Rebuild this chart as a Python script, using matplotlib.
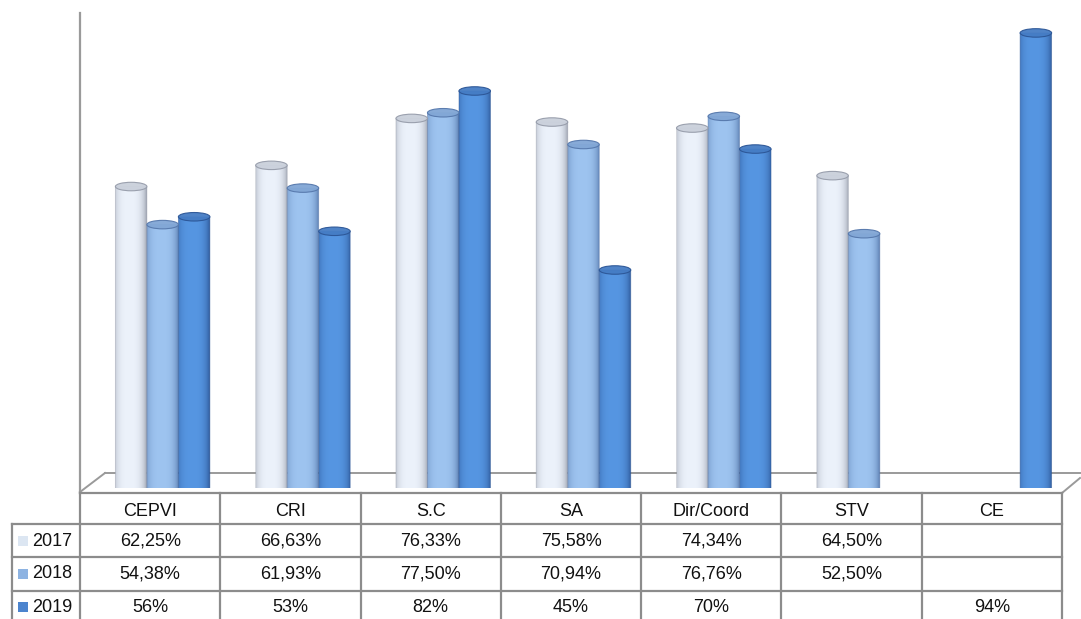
import numpy as np
import matplotlib
matplotlib.use("Agg")
import matplotlib.pyplot as plt
from matplotlib.patches import Ellipse, PathPatch, Rectangle
from matplotlib.path import Path

# ---- data -------------------------------------------------------------
categories = ["CEPVI", "CRI", "S.C", "SA", "Dir/Coord", "STV", "CE"]
years = ["2017", "2018", "2019"]
values_2017 = [62.25, 66.63, 76.33, 75.58, 74.34, 64.50, np.nan]
values_2018 = [54.38, 61.93, 77.50, 70.94, 76.76, 52.50, np.nan]
values_2019 = [56, 53, 82, 45, 70, np.nan, 94]
decimals = [2, 2, 0]

series = [values_2017, values_2018, values_2019]

# ---- styling ----------------------------------------------------------
plt.rcParams["font.family"] = ["Liberation Sans", "DejaVu Sans"]
W, H = 1081, 619
# (highlight, edge, swatch) per series
palette = [
    ((236, 242, 251), (150, 156, 170), (220, 230, 242)),
    ((158, 196, 240), (86, 120, 172), (141, 179, 226)),
    ((86, 150, 226), (44, 86, 150), (76, 132, 206)),
]
line_grey = "#9a9a9a"
table_grey = "#8c8c8c"


def rgb(c):
    return tuple(v / 255 for v in c)


fig = plt.figure(figsize=(W / 100, H / 100), dpi=100)

# pixel-space layer for the floor, wall edge and data table
base = fig.add_axes([0, 0, 1, 1], zorder=0)
base.set_xlim(0, W)
base.set_ylim(H, 0)
base.axis("off")

n = len(categories)
tab_left, tab_right = 80, 1062
col_w = (tab_right - tab_left) / n
row_y = [493, 524, 557, 591, 625]
head_left = 12

# wall edge and floor
base.plot([80, 80], [13, 493], color=line_grey, lw=1.6)
base.plot([80, 105], [492, 473], color=line_grey, lw=1.4)
base.plot([105, 1080], [473, 473], color=line_grey, lw=1.4)
base.plot([tab_right, 1080], [493, 478], color=line_grey, lw=1.4)

# table grid
base.plot([tab_left, tab_right], [row_y[0], row_y[0]], color=table_grey, lw=1.6)
for y in row_y[1:4]:
    base.plot([head_left, tab_right], [y, y], color=table_grey, lw=1.6)
for k in range(n + 1):
    x = tab_left + k * col_w
    base.plot([x, x], [row_y[0], H], color=table_grey, lw=1.6)
base.plot([head_left, head_left], [row_y[1], H], color=table_grey, lw=1.6)

fs = 13
text_kw = dict(ha="center", va="center", fontsize=fs, color="#111111")
row_centers = [541, 574, 607]
for i, cat in enumerate(categories):
    cx = tab_left + (i + 0.5) * col_w
    base.text(cx, 512, cat, **text_kw)
    for j, vals in enumerate(series):
        v = vals[i]
        if np.isnan(v):
            continue
        label = f"{v:.{decimals[j]}f}".replace(".", ",") + "%"
        base.text(cx, row_centers[j], label, **text_kw)

for j, yr in enumerate(years):
    cy = row_centers[j]
    base.add_patch(Rectangle((18, cy - 5), 10, 10, color=rgb(palette[j][2]), lw=0))
    base.text(52, cy, yr, **text_kw)

# ---- cylinder bars ----------------------------------------------------
zero_px = 487.7
px_per_unit = 4.838
ax_left_px = 92.5
ax = fig.add_axes([ax_left_px / W, (H - zero_px) / H,
                   n * col_w / W, 100 * px_per_unit / H], zorder=1)
ax.patch.set_alpha(0)
ax.set_xlim(-0.5, n - 0.5)
ax.set_ylim(0, 100)
ax.axis("off")

bar_w = 31.5 / col_w
ell_h = 8.5 / px_per_unit


def cylinder_strip(hi, edge, m=64):
    t = np.linspace(0, 1, m)
    f = np.clip(1 - np.abs((t - 0.45) / 0.55) ** 3, 0, 1) ** 0.7
    hi = np.array(rgb(hi))
    edge = np.array(rgb(edge))
    cols = edge[None, :] + (hi - edge)[None, :] * f[:, None]
    return cols[None, :, :]


for j, vals in enumerate(series):
    hi, edge, _ = palette[j]
    strip = cylinder_strip(hi, edge)
    for i, v in enumerate(vals):
        if np.isnan(v):
            continue
        xc = i + (j - 1) * bar_w
        x0, x1 = xc - bar_w / 2, xc + bar_w / 2
        # body outline: bottom half-ellipse then straight sides up to the value
        ang = np.linspace(np.pi, 2 * np.pi, 40)
        bx = xc + bar_w / 2 * np.cos(ang)
        by = ell_h / 2 * np.sin(ang)
        verts = np.vstack([np.column_stack([bx, by]), [[x1, v], [x0, v], [bx[0], by[0]]]])
        codes = [Path.MOVETO] + [Path.LINETO] * (len(verts) - 2) + [Path.CLOSEPOLY]
        body = PathPatch(Path(verts, codes), facecolor="none", edgecolor="none",
                         transform=ax.transData)
        ax.add_patch(body)
        im = ax.imshow(strip, extent=[x0, x1, -ell_h / 2, v], aspect="auto",
                       interpolation="bilinear", zorder=2)
        im.set_clip_path(body)
        # soft outline along the sides
        ax.add_patch(PathPatch(Path(verts, codes), facecolor="none",
                               edgecolor=rgb(edge), lw=0.6, alpha=0.5, zorder=3))
        # top cap
        cap_face = tuple(0.6 * a + 0.4 * b for a, b in zip(rgb(hi), rgb(edge)))
        ax.add_patch(Ellipse((xc, v), bar_w, ell_h, facecolor=cap_face,
                             edgecolor=rgb(edge), lw=0.8, alpha=0.95, zorder=4))

fig.savefig("out.png", dpi=100)
